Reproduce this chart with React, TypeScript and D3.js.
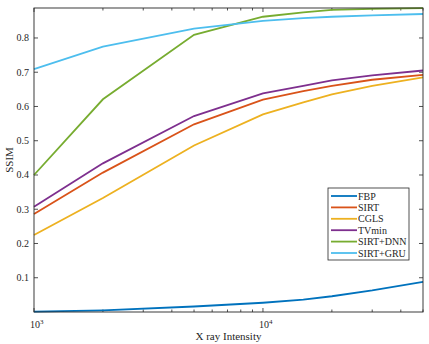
import { useEffect, useRef } from "react";
import * as d3 from "d3";

const intensity = [1000, 2000, 5000, 10000, 15000, 20000, 30000, 50000];
const seriesNames = ["FBP", "SIRT", "CGLS", "TVmin", "SIRT+DNN", "SIRT+GRU"];
const fbp = [0.001, 0.005, 0.016, 0.027, 0.036, 0.046, 0.063, 0.088];
const sirt = [0.286, 0.407, 0.548, 0.62, 0.645, 0.66, 0.678, 0.692];
const cgls = [0.225, 0.333, 0.486, 0.577, 0.612, 0.635, 0.66, 0.685];
const tvmin = [0.307, 0.434, 0.572, 0.638, 0.66, 0.676, 0.691, 0.705];
const sirtDnn = [0.4, 0.621, 0.809, 0.862, 0.875, 0.882, 0.885, 0.887];
const sirtGru = [0.709, 0.775, 0.827, 0.85, 0.858, 0.862, 0.866, 0.87];
const colors = ["#0072BD", "#D95319", "#EDB120", "#7E2F8E", "#77AC30", "#4DBEEE"];
const yTicks = [0.1, 0.2, 0.3, 0.4, 0.5, 0.6, 0.7, 0.8];

export default function App() {
  const ref = useRef<SVGSVGElement>(null);

  useEffect(() => {
    const svg = d3.select(ref.current);
    svg.selectAll("*").remove();
    const left = 34, right = 423, top = 8, bottom = 312;
    const font = "Liberation Serif, Times New Roman, serif";
    const axisColor = "#262626";

    const x = d3.scaleLog().domain([1000, 50000]).range([left, right]);
    const y = d3.scaleLinear().domain([0, 0.8875]).range([bottom, top]);

    const all = [fbp, sirt, cgls, tvmin, sirtDnn, sirtGru];
    const line = d3
      .line<number>()
      .x((_, i) => x(intensity[i]))
      .y((d) => y(d));

    const g = svg.append("g");
    // minor/major x ticks (top and bottom, inward)
    const xt = x.ticks();
    xt.forEach((t) => {
      const px = x(t);
      const major = Math.abs(Math.log10(t) % 1) < 1e-9;
      const len = major ? 4 : 2.5;
      g.append("line").attr("x1", px).attr("x2", px).attr("y1", bottom).attr("y2", bottom - len).attr("stroke", axisColor).attr("stroke-width", 0.8);
      g.append("line").attr("x1", px).attr("x2", px).attr("y1", top).attr("y2", top + len).attr("stroke", axisColor).attr("stroke-width", 0.8);
    });
    yTicks.forEach((t) => {
      const py = y(t);
      g.append("line").attr("x1", left).attr("x2", left + 4).attr("y1", py).attr("y2", py).attr("stroke", axisColor).attr("stroke-width", 0.8);
      g.append("line").attr("x1", right).attr("x2", right - 4).attr("y1", py).attr("y2", py).attr("stroke", axisColor).attr("stroke-width", 0.8);
      g.append("text")
        .attr("x", left - 5)
        .attr("y", py + 3.5)
        .attr("text-anchor", "end")
        .attr("font-family", font)
        .attr("font-size", 10)
        .attr("fill", axisColor)
        .text(d3.format(".1f")(t));
    });

    // curves
    all.forEach((s, i) => {
      g.append("path")
        .attr("d", line(s))
        .attr("fill", "none")
        .attr("stroke", colors[i])
        .attr("stroke-width", 1.8);
    });

    // box
    g.append("rect")
      .attr("x", left)
      .attr("y", top)
      .attr("width", right - left)
      .attr("height", bottom - top)
      .attr("fill", "none")
      .attr("stroke", axisColor)
      .attr("stroke-width", 0.9);

    // x decade labels
    [1000, 10000].forEach((t) => {
      const txt = g.append("text")
        .attr("x", x(t) - 4)
        .attr("y", bottom + 16)
        .attr("font-family", font)
        .attr("font-size", 10)
        .attr("fill", axisColor);
      txt.append("tspan").text("10");
      txt.append("tspan").attr("dy", -4).attr("font-size", 7).text(String(Math.round(Math.log10(t))));
    });

    g.append("text")
      .attr("x", (left + right) / 2)
      .attr("y", 340)
      .attr("text-anchor", "middle")
      .attr("font-family", font)
      .attr("font-size", 11)
      .attr("fill", axisColor)
      .text("X ray Intensity");

    g.append("text")
      .attr("transform", `translate(13,${(top + bottom) / 2}) rotate(-90)`)
      .attr("text-anchor", "middle")
      .attr("font-family", font)
      .attr("font-size", 11)
      .attr("fill", axisColor)
      .text("SSIM");

    // legend
    const lx = 328, ly = 188, rowH = 11.4;
    const lg = g.append("g");
    lg.append("rect")
      .attr("x", lx)
      .attr("y", ly)
      .attr("width", 81)
      .attr("height", 72)
      .attr("fill", "white")
      .attr("stroke", axisColor)
      .attr("stroke-width", 0.8);
    seriesNames.forEach((name, i) => {
      const cy = ly + 8 + i * rowH;
      lg.append("line").attr("x1", lx + 3).attr("x2", lx + 29).attr("y1", cy).attr("y2", cy).attr("stroke", colors[i]).attr("stroke-width", 1.8);
      lg.append("text")
        .attr("x", lx + 30)
        .attr("y", cy + 3.5)
        .attr("font-family", font)
        .attr("font-size", 10)
        .attr("fill", axisColor)
        .text(name);
    });
  }, []);

  return (
    <svg
      ref={ref}
      width={429}
      height={344}
      style={{ position: "absolute", left: 0, top: 0, background: "white" }}
    />
  );
}
